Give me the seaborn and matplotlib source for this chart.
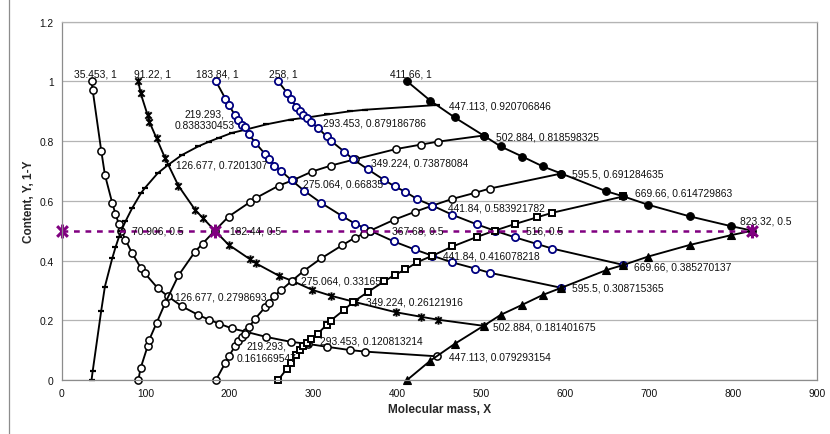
import numpy as np
import matplotlib
matplotlib.use("Agg")
import matplotlib.pyplot as plt
from matplotlib.path import Path
import seaborn as sns

# Data
#====================================================================================

# 35.453 series: 1-Y falls (open circles), Y rises (smooth, dash markers)
a_x = [35.453, 36.8, 47, 51.4, 60.1, 64, 68, 70.906, 75.9, 83.8, 94.5, 98.8, 114.2,
       126.677, 143, 162.5, 175.5, 187.4, 202.4, 219.293, 244, 272.7, 293.453,
       316.5, 344, 362, 447.113]
a_y = [1, 0.971, 0.768, 0.687, 0.593, 0.556, 0.522, 0.5, 0.469, 0.425, 0.374, 0.358,
       0.308, 0.2798693, 0.247, 0.218, 0.202, 0.189, 0.173, 0.161669547, 0.144,
       0.128, 0.120813214, 0.111, 0.100, 0.095, 0.079293154]

# 91.22 series: falling (star markers), rising (open circles)
c_x = [91.22, 94, 102.3, 104.3, 113, 123.3, 139.1, 158.9, 168, 182.44, 198.8, 224,
       231.2, 258.9, 275.064, 298.4, 321, 349.224, 398, 427.7, 448.3, 502.884]
c_y = [1, 0.96, 0.887, 0.865, 0.809, 0.742, 0.650, 0.570, 0.543, 0.5, 0.453, 0.405,
       0.391, 0.349, 0.33165, 0.302, 0.282, 0.26121916, 0.227, 0.212, 0.202,
       0.181401675]

# 183.84 series: falling (blue circles), rising (open circles)
e_x = [183.84, 195, 199.2, 206.5, 210.5, 214.5, 218.5, 223.4, 230.5, 242.5, 247,
       253.3, 261.7, 274.3, 288.8, 309.1, 334.2, 349.8, 360, 367.68, 395.8, 420.8,
       441.84, 465.2, 493.1, 510.2, 595.5]
e_y = [1, 0.942, 0.921, 0.886, 0.869, 0.855, 0.846, 0.822, 0.795, 0.756, 0.741,
       0.718, 0.699, 0.668, 0.634, 0.593, 0.549, 0.523, 0.510, 0.5, 0.464, 0.437,
       0.416078218, 0.394, 0.373, 0.359, 0.308715365]

# 258 series: falling (blue circles), rising (open squares)
g_x = [258, 268.4, 272.7, 279.5, 284, 288, 292.3, 297.3, 305, 315.6, 320.7, 336.6,
       347.3, 365.1, 384.2, 397, 409.7, 424, 441.84, 465.7, 494.9, 516, 539.9, 567,
       584.8, 669.66]
g_y = [1, 0.962, 0.942, 0.915, 0.900, 0.887, 0.876, 0.864, 0.845, 0.816, 0.801,
       0.765, 0.739, 0.705, 0.670, 0.648, 0.630, 0.605, 0.583921782, 0.553, 0.521,
       0.5, 0.478, 0.455, 0.440, 0.385270137]

# 411.66 series: falling (filled circles), rising (filled triangles)
i_x = [411.66, 439.5, 468.4, 502.884, 523.2, 549.1, 573.6, 595.5, 649.2, 669.66,
       698.7, 748.4, 798, 823.32]
i_y = [1, 0.935, 0.879, 0.818598325, 0.782, 0.748, 0.715, 0.691284635, 0.632,
       0.614729863, 0.587, 0.548, 0.515, 0.5]

# half-way line
mid_x = [0, 182.44, 823.32]
mid_y = [0.5, 0.5, 0.5]

# data labels (x, y, text)
label_pts = [
    (35.453, 1, "35.453, 1"), (91.22, 1, "91.22, 1"), (183.84, 1, "183.84, 1"),
    (258, 1, "258, 1"), (411.66, 1, "411.66, 1"),
    (219.293, 0.838330453, "219.293,\n0.838330453"),
    (126.677, 0.7201307, "126.677, 0.7201307"),
    (293.453, 0.879186786, "293.453, 0.879186786"),
    (447.113, 0.920706846, "447.113, 0.920706846"),
    (502.884, 0.818598325, "502.884, 0.818598325"),
    (349.224, 0.73878084, "349.224, 0.73878084"),
    (275.064, 0.66835, "275.064, 0.66835"),
    (595.5, 0.691284635, "595.5, 0.691284635"),
    (669.66, 0.614729863, "669.66, 0.614729863"),
    (441.84, 0.583921782, "441.84, 0.583921782"),
    (823.32, 0.5, "823.32, 0.5"),
    (70.906, 0.5, "70.906, 0.5"), (182.44, 0.5, "182.44, 0.5"),
    (367.68, 0.5, "367.68, 0.5"), (516, 0.5, "516, 0.5"),
    (441.84, 0.416078218, "441.84, 0.416078218"),
    (669.66, 0.385270137, "669.66, 0.385270137"),
    (595.5, 0.308715365, "595.5, 0.308715365"),
    (275.064, 0.33165, "275.064, 0.33165"),
    (349.224, 0.26121916, "349.224, 0.26121916"),
    (502.884, 0.181401675, "502.884, 0.181401675"),
    (126.677, 0.2798693, "126.677, 0.2798693"),
    (219.293, 0.161669547, "219.293,\n0.161669547"),
    (293.453, 0.120813214, "293.453, 0.120813214"),
    (447.113, 0.079293154, "447.113, 0.079293154"),
]
# where each label sits relative to its point (pixels right, pixels up, alignment)
label_place = [
    (4, 8, 'center'), (14, 8, 'center'), (1, 8, 'center'), (5, 8, 'center'), (4, 8, 'center'),
    (-41, 10, 'center'), (8, 0, 'left'), (15, -5, 'left'), (12, 0, 'left'), (12, -1, 'left'),
    (16, -3, 'left'), (10, -3, 'left'), (11, 0, 'left'), (12, 4, 'left'), (16, -2, 'left'),
    (13, 10, 'center'), (11, 0, 'left'), (15, 0, 'left'), (22, 0, 'left'), (31, 0, 'left'),
    (11, 0, 'left'), (11, -2, 'left'), (11, 0, 'left'), (8, 0, 'left'), (11, 0, 'left'),
    (9, -1, 'left'), (7, 0, 'left'), (21, -20, 'center'), (12, 3, 'left'), (12, 0, 'left'),
]

# Plot
#====================================================================================

sns.set_style("white")
plt.rcParams['font.family'] = ['Liberation Sans', 'DejaVu Sans']

fig = plt.figure(figsize=(8.3, 4.35), dpi=100)
ax = fig.add_axes([61.8 / 830, 1 - 381 / 435, (816.7 - 61.8) / 830, (381 - 22.6) / 435])

# Excel style star: an x with a vertical bar
star = Path([(-1, -1), (1, 1), (-1, 1), (1, -1), (0, -1.3), (0, 1.3)],
            [Path.MOVETO, Path.LINETO, Path.MOVETO, Path.LINETO, Path.MOVETO, Path.LINETO])


def draw(x, y, **kw):
    sns.lineplot(x=np.array(x), y=np.array(y), ax=ax, sort=False, estimator=None,
                 color='black', linewidth=1.35, clip_on=False, **kw)


def comp(v):
    return [1 - t for t in v]


draw(a_x, a_y, marker='o', markersize=5.2, markerfacecolor='white',
     markeredgecolor='black', markeredgewidth=1.1)
draw(a_x, comp(a_y), marker='_', markersize=4, markeredgecolor='black', markeredgewidth=1.6)
draw(c_x, c_y, marker=star, markersize=6, markeredgecolor='black', markeredgewidth=1.4)
draw(c_x, comp(c_y), marker='o', markersize=5.2, markerfacecolor='white',
     markeredgecolor='black', markeredgewidth=1.1)
draw(e_x, e_y, marker='o', markersize=5.2, markerfacecolor='white',
     markeredgecolor='#000080', markeredgewidth=1.3)
draw(e_x, comp(e_y), marker='o', markersize=5.2, markerfacecolor='white',
     markeredgecolor='black', markeredgewidth=1.1)
draw(g_x, g_y, marker='o', markersize=5.2, markerfacecolor='white',
     markeredgecolor='#000080', markeredgewidth=1.3)
draw(g_x, comp(g_y), marker='s', markersize=5, markerfacecolor='white',
     markeredgecolor='black', markeredgewidth=1.4)
draw(i_x, i_y, marker='o', markersize=5.5, markerfacecolor='black',
     markeredgecolor='black', markeredgewidth=0.8)
draw(i_x, comp(i_y), marker='^', markersize=6, markerfacecolor='black',
     markeredgecolor='black', markeredgewidth=0.8)

sns.lineplot(x=np.array(mid_x), y=np.array(mid_y), ax=ax, sort=False, estimator=None,
             color='#800080', linewidth=1.8, linestyle=(0, (2.3, 2.3)), clip_on=False,
             marker=star, markersize=10, markeredgecolor='#800080', markeredgewidth=2.2)

# data labels
for (px, py, txt), (dx, dy, ha) in zip(label_pts, label_place):
    ax.annotate(txt, (px, py), xytext=(dx * 0.72, dy * 0.72), textcoords='offset points',
                ha=ha, va='center', ma='center', fontsize=7.4, color='#111111',
                annotation_clip=False, zorder=5)

# axes
ax.set_xlim(0, 900)
ax.set_ylim(0, 1.2)
ax.set_xticks(np.arange(0, 901, 100))
ax.set_yticks(np.arange(0, 1.21, 0.2))
ax.set_yticklabels(["0", "0.2", "0.4", "0.6", "0.8", "1", "1.2"])
ax.tick_params(axis='both', labelsize=7.4, length=4, width=0.8, color='#808080',
               direction='out', pad=2, labelcolor='#111111')
ax.yaxis.grid(True, color='#b4b4b4', linewidth=0.9)
ax.xaxis.grid(False)
ax.set_axisbelow(True)
for side in ['left', 'bottom', 'right', 'top']:
    ax.spines[side].set_color('#8c8c8c')
    ax.spines[side].set_linewidth(0.9)
ax.spines['top'].set_color('#b4b4b4')

ax.set_xlabel("Molecular mass, X", fontsize=8.5, fontweight='bold')
ax.set_ylabel("Content, Y, 1-Y", fontsize=8.5, fontweight='bold')
ax.xaxis.set_label_coords(0.5, -0.065)
ax.yaxis.set_label_coords(-0.036, 0.5)

# outer chart border on the left edge
fig.add_artist(plt.Line2D([9 / 830, 9 / 830], [0, 1], transform=fig.transFigure,
                          color='#8c8c8c', linewidth=0.9))

fig.savefig("out.png", dpi=100)
